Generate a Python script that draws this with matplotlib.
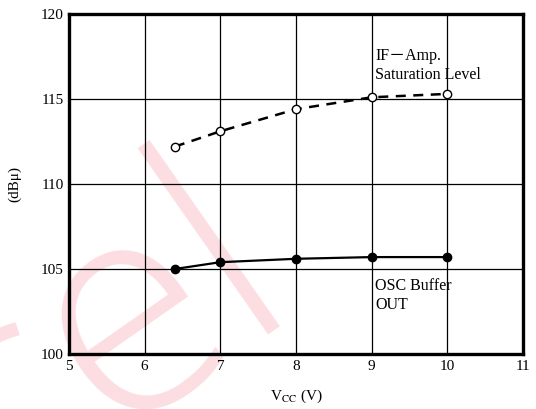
import numpy as np
import matplotlib.pyplot as plt

plt.rcParams.update({'font.family': ['Liberation Serif', 'Noto Sans CJK JP']})
plt.rcParams.update({'font.size': 11})
plt.rcParams.update({'mathtext.fontset': 'stix'})

# supply voltage (V) and output levels (dBμ)
vcc = [6.4, 7, 8, 9, 10]
if_sat = [112.2, 113.1, 114.4, 115.1, 115.3]
osc_out = [105.0, 105.4, 105.6, 105.7, 105.7]

xticks = [5, 6, 7, 8, 9, 10, 11]
yticks = [100, 105, 110, 115, 120]

fig = plt.figure(figsize=(5.36, 4.09), dpi=100)
ax = fig.add_axes([0.1287, 0.1345, 0.8470, 0.8313])
ax.set_zorder(1)
ax.set_facecolor('none')

# faint background lettering
fig.text(0.19, 0.16, 'cel', fontsize=215, color='#fcdde2', rotation=35,
         family='Open Sans', fontweight='light', ha='center', va='center', zorder=0)

ax.plot(vcc, if_sat, color='black', lw=1.8, dashes=(4, 3),
        marker='o', markersize=6, markerfacecolor='white',
        markeredgecolor='black', markeredgewidth=1, zorder=3)
ax.plot(vcc, osc_out, color='black', lw=1.6,
        marker='o', markersize=6, markerfacecolor='black',
        markeredgecolor='black', zorder=3)

ax.set_xlim(5, 11)
ax.set_ylim(100, 120)
ax.set_xticks(xticks)
ax.set_yticks(yticks)
ax.tick_params(length=0, labelsize=11, pad=4)
ax.grid(color='black', lw=0.9)
for s in ax.spines.values():
    s.set_linewidth(2.4)

ax.text(9.05, 116.95, 'IF－Amp.\nSaturation Level', fontsize=11.5,
        va='center', ha='left', linespacing=1.25)
ax.text(9.05, 103.45, 'OSC Buffer\nOUT', fontsize=11.5,
        va='center', ha='left', linespacing=1.25)

ax.set_xlabel('V$_{\\mathrm{CC}}$ (V)', fontsize=11, labelpad=11)
ax.set_ylabel('(dBμ)', fontsize=11, labelpad=14)

plt.savefig('out.png', format='png')
